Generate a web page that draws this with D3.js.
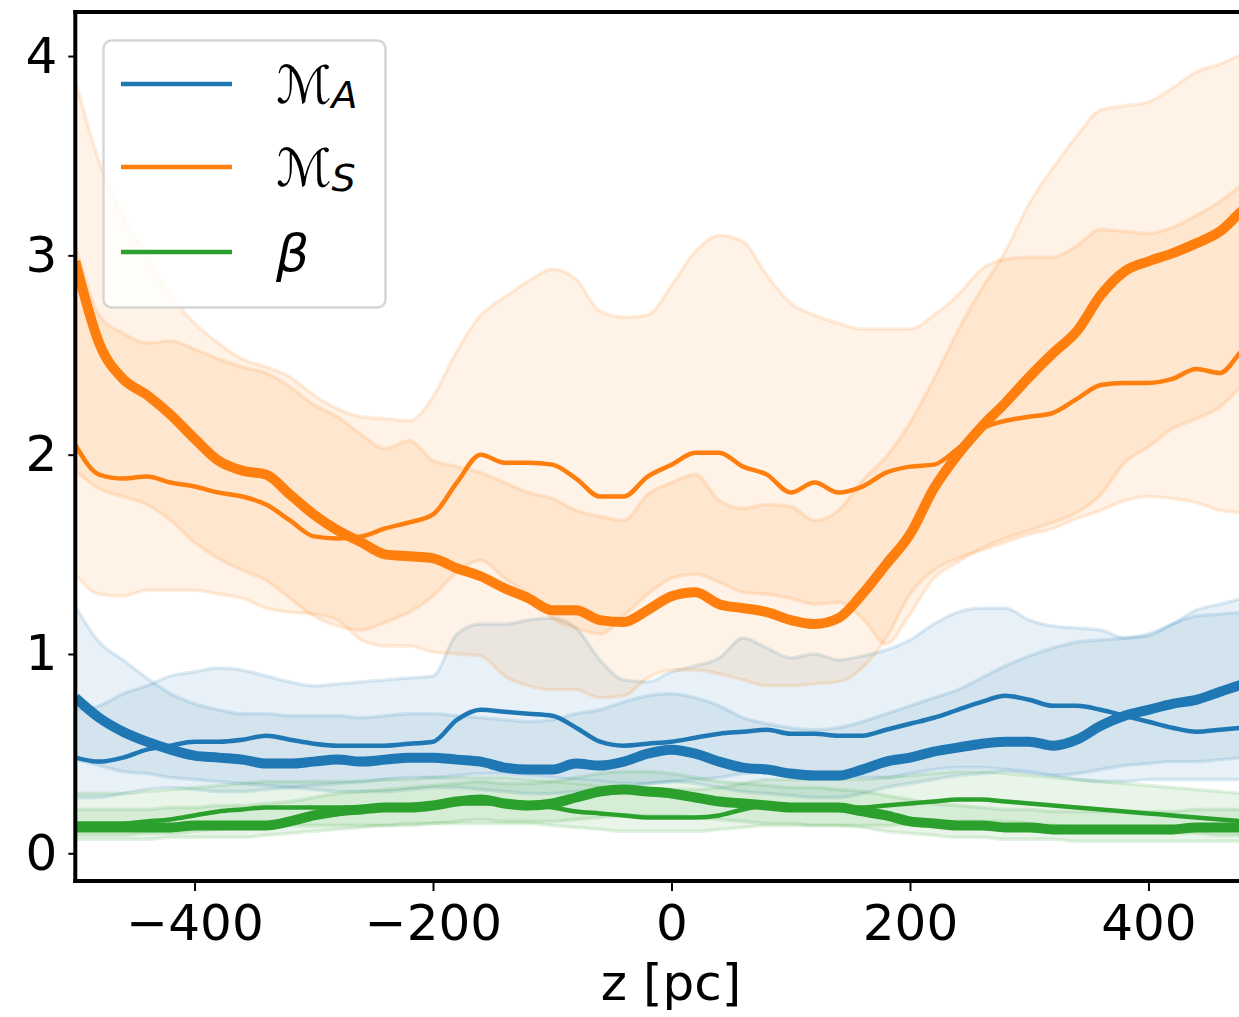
<!DOCTYPE html>
<html><head><meta charset="utf-8">
<script src="https://cdn.jsdelivr.net/npm/d3@7"></script>
<style>
html,body{margin:0;padding:0;background:#fff;overflow:hidden}
svg{display:block}
text{font-family:"DejaVu Sans",sans-serif;fill:#000}
</style></head><body>
<svg id="chart" width="1239" height="1017"></svg>
<script>
// height above the midplane, pc
const zPc = [-500,-480,-460,-440,-420,-400,-380,-360,-340,-320,-300,-280,-260,-240,-220,-200,-180,-160,-140,-120,-100,-80,-60,-40,-20,0,20,40,60,80,100,120,140,160,180,200,220,240,260,280,300,320,340,360,380,400,420,440,460,480,500];

// sonic Mach number: run 1 (thick) and run 2 (thin), with spread bands
const msThick = [2.97,2.56,2.38,2.30,2.20,2.08,1.97,1.92,1.90,1.80,1.70,1.62,1.56,1.50,1.49,1.48,1.43,1.39,1.33,1.28,1.22,1.22,1.17,1.16,1.22,1.29,1.31,1.25,1.23,1.21,1.17,1.15,1.18,1.30,1.45,1.60,1.83,2.00,2.14,2.26,2.39,2.51,2.62,2.80,2.92,2.97,3.01,3.06,3.12,3.23,3.30];
const msThickLo = [1.40,1.30,1.29,1.32,1.32,1.32,1.30,1.28,1.23,1.21,1.20,1.17,1.07,1.04,1.04,1.01,1.00,0.99,0.89,0.84,0.82,0.82,0.78,0.79,0.88,0.92,0.92,0.90,0.87,0.84,0.84,0.85,0.86,0.93,1.08,1.30,1.42,1.48,1.52,1.56,1.60,1.63,1.68,1.72,1.77,1.79,1.78,1.76,1.72,1.71,1.71];
const msThickHi = [3.05,2.70,2.61,2.56,2.57,2.53,2.48,2.44,2.41,2.34,2.25,2.19,2.10,2.03,2.07,1.97,1.94,1.91,1.86,1.81,1.78,1.72,1.69,1.67,1.80,1.86,1.90,1.77,1.73,1.75,1.74,1.67,1.72,1.87,1.99,2.16,2.38,2.62,2.83,3.02,3.26,3.44,3.60,3.73,3.75,3.77,3.84,3.92,3.96,4.01,4.04];
const msThin = [2.05,1.90,1.88,1.89,1.86,1.84,1.81,1.79,1.75,1.67,1.59,1.58,1.59,1.63,1.66,1.70,1.86,2.00,1.96,1.96,1.95,1.88,1.79,1.79,1.89,1.95,2.01,2.01,1.94,1.90,1.81,1.86,1.81,1.84,1.91,1.94,1.95,2.03,2.13,2.17,2.19,2.21,2.28,2.35,2.36,2.36,2.38,2.43,2.41,2.53,2.58];
const msThinLo = [1.92,1.83,1.79,1.75,1.67,1.56,1.48,1.42,1.37,1.28,1.19,1.14,1.12,1.16,1.21,1.29,1.41,1.47,1.38,1.30,1.18,1.13,1.10,1.19,1.30,1.38,1.40,1.36,1.31,1.30,1.28,1.25,1.26,1.18,1.05,1.20,1.38,1.46,1.53,1.58,1.62,1.66,1.71,1.80,1.96,2.04,2.13,2.18,2.24,2.35,2.40];
const msThinHi = [3.88,3.47,3.20,3.00,2.80,2.66,2.56,2.48,2.44,2.39,2.30,2.23,2.19,2.18,2.17,2.29,2.52,2.70,2.79,2.87,2.93,2.88,2.72,2.69,2.70,2.85,3.02,3.10,3.07,2.90,2.76,2.70,2.66,2.63,2.63,2.63,2.70,2.80,2.93,2.98,2.99,2.99,3.05,3.13,3.12,3.11,3.14,3.20,3.27,3.36,3.42];

// Alfvénic Mach number
const maThick = [0.78,0.68,0.61,0.56,0.52,0.49,0.48,0.47,0.45,0.45,0.46,0.47,0.46,0.47,0.48,0.48,0.47,0.46,0.43,0.42,0.42,0.45,0.44,0.46,0.50,0.52,0.50,0.46,0.43,0.42,0.40,0.39,0.39,0.42,0.46,0.48,0.51,0.53,0.55,0.56,0.56,0.54,0.57,0.64,0.69,0.72,0.75,0.77,0.81,0.85,0.88];
const maThickLo = [0.47,0.44,0.41,0.40,0.38,0.37,0.36,0.35,0.34,0.33,0.32,0.31,0.31,0.31,0.32,0.33,0.33,0.32,0.31,0.30,0.30,0.31,0.32,0.33,0.35,0.36,0.35,0.33,0.31,0.30,0.29,0.28,0.28,0.30,0.33,0.35,0.37,0.39,0.40,0.41,0.40,0.39,0.40,0.42,0.44,0.45,0.46,0.46,0.47,0.48,0.49];
const maThickHi = [1.24,1.06,0.97,0.88,0.80,0.75,0.72,0.70,0.70,0.69,0.69,0.69,0.68,0.69,0.70,0.70,0.69,0.68,0.67,0.66,0.67,0.70,0.72,0.76,0.79,0.80,0.78,0.74,0.68,0.65,0.63,0.62,0.63,0.66,0.70,0.74,0.78,0.82,0.88,0.94,0.99,1.03,1.06,1.07,1.08,1.10,1.15,1.19,1.20,1.21,1.22];
const maThin = [0.48,0.46,0.48,0.52,0.54,0.56,0.56,0.57,0.59,0.57,0.55,0.54,0.54,0.54,0.55,0.56,0.67,0.72,0.71,0.70,0.69,0.63,0.56,0.54,0.55,0.56,0.58,0.60,0.61,0.62,0.60,0.60,0.59,0.59,0.62,0.65,0.68,0.72,0.76,0.79,0.77,0.74,0.74,0.72,0.69,0.66,0.63,0.61,0.62,0.63,0.63];
const maThinLo = [0.28,0.28,0.30,0.32,0.33,0.32,0.31,0.31,0.32,0.33,0.34,0.35,0.36,0.37,0.38,0.38,0.39,0.40,0.40,0.39,0.38,0.37,0.36,0.35,0.35,0.36,0.37,0.38,0.40,0.41,0.41,0.40,0.39,0.38,0.38,0.40,0.42,0.43,0.43,0.42,0.41,0.39,0.37,0.36,0.36,0.37,0.37,0.37,0.37,0.37,0.37];
const maThinHi = [0.72,0.74,0.80,0.84,0.89,0.91,0.93,0.92,0.89,0.86,0.84,0.85,0.86,0.87,0.88,0.89,1.10,1.15,1.15,1.17,1.18,1.13,0.97,0.87,0.86,0.91,0.94,0.98,1.08,1.03,0.98,1.00,0.97,0.99,1.02,1.07,1.15,1.21,1.23,1.23,1.17,1.14,1.13,1.12,1.08,1.09,1.15,1.22,1.25,1.28,1.30];

// plasma beta
const betaThick = [0.13,0.13,0.13,0.13,0.13,0.14,0.14,0.14,0.14,0.16,0.19,0.21,0.22,0.23,0.23,0.24,0.26,0.27,0.25,0.24,0.25,0.28,0.31,0.32,0.31,0.30,0.28,0.26,0.25,0.24,0.23,0.23,0.23,0.21,0.19,0.16,0.15,0.14,0.14,0.13,0.13,0.12,0.12,0.12,0.12,0.12,0.12,0.13,0.13,0.13,0.13];
const betaThickLo = [0.07,0.07,0.07,0.07,0.08,0.08,0.08,0.08,0.09,0.10,0.11,0.12,0.13,0.14,0.14,0.15,0.16,0.17,0.16,0.16,0.16,0.17,0.18,0.19,0.19,0.19,0.18,0.17,0.16,0.15,0.15,0.14,0.14,0.13,0.11,0.10,0.09,0.08,0.08,0.07,0.07,0.07,0.06,0.06,0.06,0.06,0.06,0.06,0.06,0.06,0.06];
const betaThickHi = [0.22,0.22,0.22,0.22,0.23,0.23,0.24,0.24,0.25,0.26,0.28,0.30,0.31,0.32,0.33,0.34,0.35,0.36,0.35,0.35,0.36,0.38,0.40,0.41,0.41,0.40,0.38,0.36,0.35,0.34,0.33,0.33,0.32,0.31,0.29,0.27,0.25,0.24,0.23,0.22,0.22,0.21,0.21,0.21,0.21,0.21,0.21,0.22,0.22,0.22,0.22];
const betaThin = [0.15,0.15,0.15,0.16,0.17,0.19,0.21,0.22,0.23,0.23,0.23,0.23,0.23,0.23,0.24,0.24,0.25,0.25,0.25,0.24,0.23,0.21,0.20,0.19,0.18,0.18,0.18,0.19,0.22,0.24,0.23,0.23,0.23,0.23,0.24,0.25,0.26,0.27,0.27,0.26,0.25,0.24,0.23,0.22,0.21,0.20,0.19,0.18,0.17,0.16,0.15];
const betaThinLo = [0.09,0.09,0.09,0.10,0.10,0.11,0.12,0.13,0.13,0.14,0.14,0.14,0.14,0.14,0.15,0.15,0.15,0.15,0.15,0.15,0.14,0.13,0.12,0.11,0.11,0.11,0.11,0.12,0.13,0.14,0.14,0.14,0.14,0.14,0.14,0.15,0.15,0.16,0.16,0.16,0.15,0.14,0.13,0.12,0.11,0.11,0.10,0.10,0.09,0.09,0.09];
const betaThinHi = [0.30,0.30,0.30,0.31,0.32,0.33,0.34,0.35,0.36,0.36,0.36,0.36,0.36,0.37,0.37,0.38,0.38,0.38,0.38,0.37,0.36,0.35,0.34,0.33,0.32,0.32,0.32,0.33,0.35,0.37,0.37,0.37,0.37,0.37,0.38,0.39,0.40,0.41,0.41,0.40,0.39,0.38,0.37,0.36,0.35,0.34,0.33,0.32,0.31,0.30,0.30];

const xTicks = [-400,-200,0,200,400];
const yTicks = [0,1,2,3,4];
const xLabel = "z [pc]";

const C0 = "#1f77b4", C1 = "#ff7f0e", C2 = "#2ca02c";

const svg = d3.select("#chart");
const pLeft = 75.3, pRight = 1267.7, pTop = 12, pBottom = 881;
const x = d3.scaleLinear().domain([-500, 500]).range([pLeft, pRight]);
const y = d3.scaleLinear().domain([-0.139, 4.221]).range([pBottom, pTop]);

svg.append("defs").append("clipPath").attr("id", "plotArea")
  .append("rect").attr("x", pLeft).attr("y", pTop)
  .attr("width", pRight - pLeft).attr("height", pBottom - pTop);

const plot = svg.append("g").attr("clip-path", "url(#plotArea)");

function rows(lo, hi) { return zPc.map((z, i) => ({z, lo: lo[i], hi: hi[i]})); }
function pts(v) { return zPc.map((z, i) => ({z, v: v[i]})); }

const area = d3.area().x(d => x(d.z)).y0(d => y(d.lo)).y1(d => y(d.hi)).curve(d3.curveMonotoneX);
const line = d3.line().x(d => x(d.z)).y(d => y(d.v)).curve(d3.curveMonotoneX);

const bands = [
  [maThickLo, maThickHi, C0], [maThinLo, maThinHi, C0],
  [msThickLo, msThickHi, C1], [msThinLo, msThinHi, C1],
  [betaThickLo, betaThickHi, C2], [betaThinLo, betaThinHi, C2]
];
bands.forEach(([lo, hi, c]) => {
  plot.append("path").datum(rows(lo, hi)).attr("d", area)
    .attr("fill", c).attr("fill-opacity", 0.1)
    .attr("stroke", c).attr("stroke-opacity", 0.14).attr("stroke-width", 3.5);
});

const lines = [
  [maThick, C0, 10], [maThin, C0, 4.5],
  [msThick, C1, 10], [msThin, C1, 4.5],
  [betaThick, C2, 10], [betaThin, C2, 4.5]
];
lines.forEach(([v, c, w]) => {
  plot.append("path").datum(pts(v)).attr("d", line)
    .attr("fill", "none").attr("stroke", c).attr("stroke-width", w)
    .attr("stroke-linejoin", "round").attr("stroke-linecap", "butt");
});

// axes
const fs = 50;
const gx = svg.append("g").attr("transform", `translate(0,${pBottom})`)
  .call(d3.axisBottom(x).tickValues(xTicks).tickSize(10).tickPadding(13));
const gy = svg.append("g").attr("transform", `translate(${pLeft},0)`)
  .call(d3.axisLeft(y).tickValues(yTicks).tickFormat(d3.format("d")).tickSize(7).tickPadding(11));
[gx, gy].forEach(g => {
  g.select(".domain").remove();
  g.selectAll(".tick line").attr("stroke", "#000").attr("stroke-width", 2);
  g.selectAll(".tick text").attr("font-size", fs).attr("fill", "#000")
    .style("font-family", "DejaVu Sans");
});

// spines
const spine = svg.append("g").attr("stroke", "#000").attr("stroke-width", 4).attr("fill", "none");
spine.append("line").attr("x1", pLeft).attr("x2", pLeft).attr("y1", pTop - 2).attr("y2", pBottom + 2);
spine.append("line").attr("x1", pLeft - 2).attr("x2", pRight + 2).attr("y1", pTop).attr("y2", pTop);
spine.append("line").attr("x1", pLeft - 2).attr("x2", pRight + 2).attr("y1", pBottom).attr("y2", pBottom);
spine.append("line").attr("x1", pRight).attr("x2", pRight).attr("y1", pTop).attr("y2", pBottom);

svg.append("text").attr("x", 671).attr("y", 1000).attr("text-anchor", "middle")
  .attr("font-size", fs).text(xLabel);

// legend
const leg = svg.append("g");
leg.append("rect").attr("x", 103.5).attr("y", 40.5).attr("width", 282).attr("height", 267)
  .attr("rx", 8).attr("fill", "#fff").attr("fill-opacity", 0.8)
  .attr("stroke", "#d6d6d6").attr("stroke-width", 2.5);
const legItems = [
  {c: C0, y: 84, main: "ℳ", sub: "A"},
  {c: C1, y: 167, main: "ℳ", sub: "S"},
  {c: C2, y: 252, main: "β", sub: ""}
];
legItems.forEach(it => {
  leg.append("line").attr("x1", 121).attr("x2", 232).attr("y1", it.y).attr("y2", it.y)
    .attr("stroke", it.c).attr("stroke-width", 4.5);
  const t = leg.append("text").attr("x", 276).attr("y", it.y + 19).attr("font-size", 52);
  t.append("tspan").style("font-style", "italic").text(it.main);
  if (it.sub) {
    t.append("tspan").attr("dy", 5).attr("font-size", 38).style("font-style", "italic").text(it.sub);
  }
});
</script>
</body></html>
